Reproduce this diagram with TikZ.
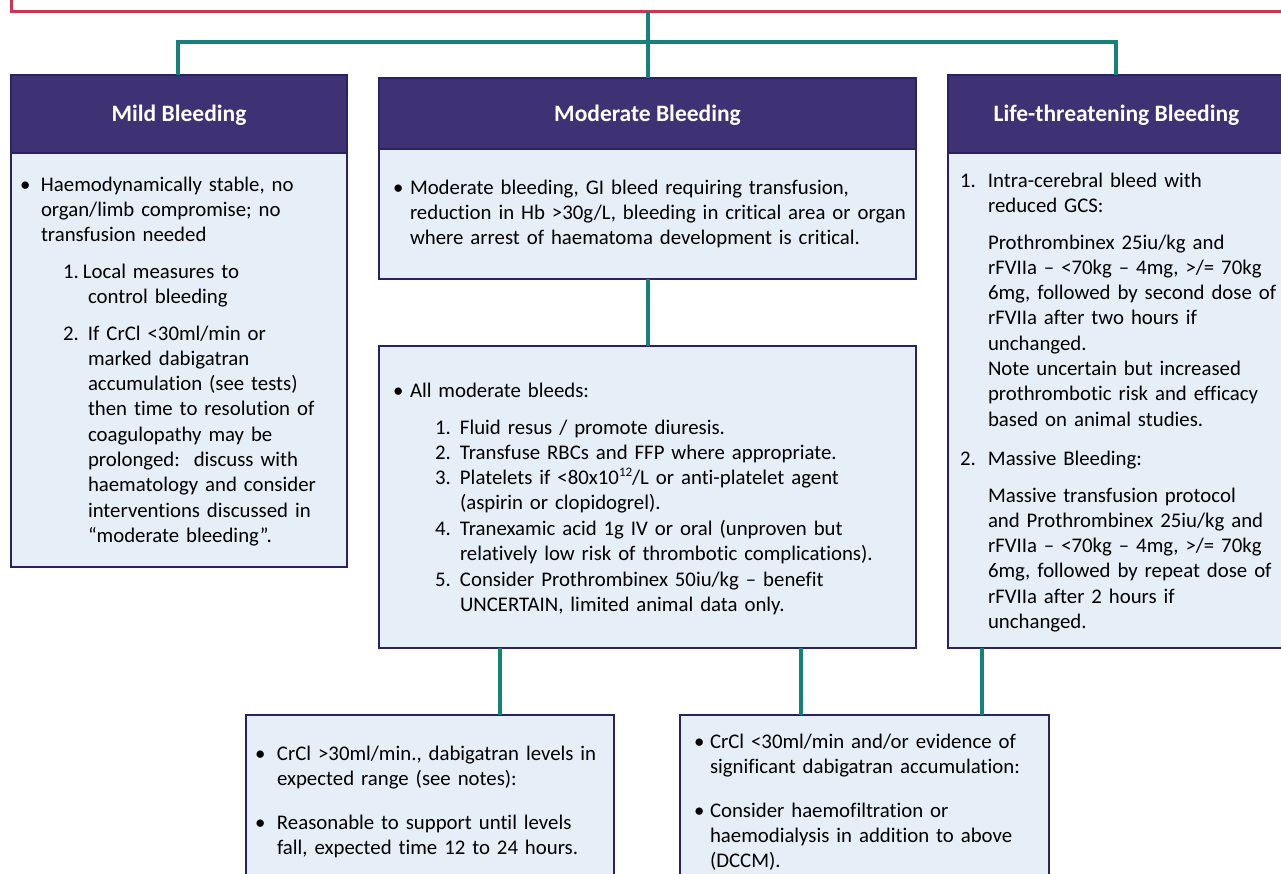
\documentclass[tikz,border=0pt]{standalone}
\usepackage{fontspec}
\setmainfont{Carlito}[Ligatures=NoCommon]
\definecolor{hdr}{HTML}{3F3274}
\definecolor{bdr}{HTML}{2A2262}
\definecolor{bfill}{HTML}{E6EEF8}
\definecolor{tealc}{HTML}{16807A}
\definecolor{redc}{HTML}{C8364F}
\newcommand\bodyfont{\fontsize{20.8}{25.3}\selectfont}
\newcommand\headfont{\fontsize{23.5}{27}\selectfont\bfseries}
\newcommand\li[3]{\noindent\makebox[#1][l]{#2}\parbox[t]{600pt}{\raggedright\strut #3}}
\newcommand\htxt[1]{\raisebox{-8pt}[0pt][0pt]{#1}}
\begin{document}
\begin{tikzpicture}[x=1pt,y=-1pt,
  box/.style={draw=bdr, line width=2.5pt, fill=bfill, inner sep=0pt, outer sep=0pt, anchor=north west},
  hbox/.style={box, fill=hdr, text=white, font=\headfont},
  conn/.style={draw=tealc, line width=4pt},
  txt/.style={anchor=north west, inner sep=0pt, outer sep=0pt, text width=700pt, font=\bodyfont, align=left}]
\useasboundingbox (0,0) rectangle (1281,874);
\clip (0,0) rectangle (1281,874);
% top red box
\node[draw=redc, line width=3pt, inner sep=0pt, outer sep=0pt, anchor=north west,
  minimum width=1300pt, minimum height=40pt] (red) at (11,-28) {};
% boxes
\node[box, minimum width=336pt, minimum height=414pt] (mildb) at (11,153) {};
\node[hbox, minimum width=336pt, minimum height=78pt] (mildh) at (11,75) {\htxt{Mild Bleeding}};
\node[box, minimum width=537pt, minimum height=130pt] (modb) at (379,149) {};
\node[hbox, minimum width=537pt, minimum height=71pt] (modh) at (379,78) {\htxt{Moderate Bleeding}};
\node[box, minimum width=537pt, minimum height=302pt] (mod2) at (379,346) {};
\node[box, minimum width=350pt, minimum height=495pt] (lifeb) at (948,153) {};
\node[hbox, minimum width=350pt, minimum height=78pt] (lifeh) at (948,75) {\hspace*{-13pt}\htxt{Life-threatening Bleeding}};
\node[box, minimum width=368pt, minimum height=180pt] (bl) at (246,715) {};
\node[box, minimum width=369pt, minimum height=180pt] (br) at (680,715) {};
% connectors
\coordinate (cm) at (178,42);
\coordinate (cl) at (1116,42);
\coordinate (c1) at (500,0);
\coordinate (c2) at (801,0);
\coordinate (c3) at (982,0);
\draw[conn] (red.south -| modh.north) -- (modh.north);
\draw[conn] (mildh.north -| cm) -- (cm) -- (cl) -- (lifeh.north -| cl);
\draw[conn] (modb.south) -- (mod2.north);
\draw[conn] (mod2.south -| c1) -- (bl.north -| c1);
\draw[conn] (mod2.south -| c2) -- (br.north -| c2);
\draw[conn] (lifeb.south -| c3) -- (br.north -| c3);
% mild text
\node[txt] (m1) at (20,{191-17.7}) {\li{21pt}{•}{Haemodynamically stable, no\\ organ/limb compromise; no\\ transfusion needed}};
\node[txt] (m2) at (63,{278-17.7}) {\li{20pt}{1.}{Local measures to\\ \hspace*{5pt}control bleeding}};
\node[txt] (m3) at (63,{340-17.7}) {\li{25pt}{2.}{If CrCl <30ml/min or\\ marked dabigatran\\ accumulation (see tests)\\ then time to resolution of\\ coagulopathy may be\\ prolonged:\ \ discuss with\\ haematology and consider\\ interventions discussed in\\ “moderate bleeding”.}};
% moderate top text
\node[txt] (d1) at (393,{194-17.7}) {\li{17pt}{•}{Moderate bleeding, GI bleed requiring transfusion,\\ reduction in Hb >30g/L, bleeding in critical area or organ\\ where arrest of haematoma development is critical.}};
% moderate second box text
\node[txt] (e0) at (393,{397-17.7}) {\li{17pt}{•}{All moderate bleeds:}};
\node[txt] (e1) at (435,{434-17.7}) {\li{25pt}{1.}{Fluid resus / promote diuresis.}};
\node[txt] (e2) at (435,{459-17.7}) {\li{25pt}{2.}{Transfuse RBCs and FFP where appropriate.}};
\node[txt] (e3) at (435,{484-17.7}) {\li{25pt}{3.}{Platelets if <80x10\raisebox{8pt}{\fontsize{13}{13}\selectfont 12}/L or anti-platelet agent\\ (aspirin or clopidogrel).}};
\node[txt] (e4) at (435,{535-17.7}) {\li{25pt}{4.}{Tranexamic acid 1g IV or oral (unproven but\\ relatively low risk of thrombotic complications).}};
\node[txt] (e5) at (435,{586-17.7}) {\li{25pt}{5.}{Consider Prothrombinex 50iu/kg – benefit\\ UNCERTAIN, limited animal data only.}};
% life text
\node[txt] (l1) at (960,{187-17.7}) {\li{28pt}{1.}{Intra-cerebral bleed with\\ reduced GCS:}};
\node[txt] (l2) at (988,{249-17.7}) {\li{0pt}{}{Prothrombinex 25iu/kg and\\ rFVIIa – <70kg – 4mg, >/= 70kg\\ 6mg, followed by second dose of\\ rFVIIa after two hours if\\ unchanged.\\ Note uncertain but increased\\ prothrombotic risk and efficacy\\ based on animal studies.}};
\node[txt] (l3) at (960,{465-17.7}) {\li{28pt}{2.}{Massive Bleeding:}};
\node[txt] (l4) at (988,{502-17.7}) {\li{0pt}{}{Massive transfusion protocol\\ and Prothrombinex 25iu/kg and\\ rFVIIa – <70kg – 4mg, >/= 70kg\\ 6mg, followed by repeat dose of\\ rFVIIa after 2 hours if\\ unchanged.}};
% bottom left
\node[txt] (b1) at (255,{760-17.7}) {\li{22pt}{•}{CrCl >30ml/min., dabigatran levels in\\ expected range (see notes):}};
\node[txt] (b2) at (255,{829-17.7}) {\li{22pt}{•}{Reasonable to support until levels\\ fall, expected time 12 to 24 hours.}};
% bottom right
\node[txt] (r1) at (694,{748-17.7}) {\li{16pt}{•}{CrCl <30ml/min and/or evidence of\\ significant dabigatran accumulation:}};
\node[txt] (r2) at (694,{817-17.7}) {\li{16pt}{•}{Consider haemofiltration or\\ haemodialysis in addition to above\\ (DCCM).}};
\end{tikzpicture}
\end{document}
